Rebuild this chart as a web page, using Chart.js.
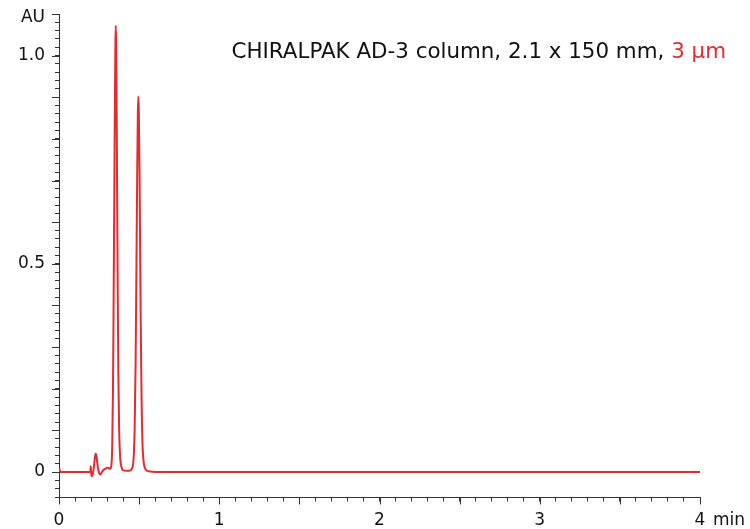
<!DOCTYPE html>
<html>
<head>
<meta charset="utf-8">
<script src="https://cdn.jsdelivr.net/npm/chart.js@4.4.1/dist/chart.umd.min.js"></script>
<style>
html, body { margin: 0; padding: 0; background: #fff; }
#wrap { width: 750px; height: 529px; }
</style>
</head>
<body>
<div id="wrap"><canvas id="chromChart"></canvas></div>
<script>
// Retention time (min) and absorbance (AU)
const times = [
    0.000, 0.003, 0.008, 0.190, 0.196, 0.198, 0.200, 0.205, 0.212, 0.220,
    0.226, 0.230, 0.235, 0.242, 0.250, 0.258, 0.268, 0.280, 0.292, 0.300,
    0.308, 0.315, 0.320, 0.326, 0.332, 0.337, 0.341, 0.345, 0.349, 0.352,
    0.354, 0.356, 0.359, 0.362, 0.366, 0.370, 0.375, 0.381, 0.390, 0.400,
    0.420, 0.440, 0.455, 0.465, 0.472, 0.478, 0.483, 0.488, 0.492, 0.495,
    0.498, 0.502, 0.506, 0.510, 0.515, 0.521, 0.528, 0.538, 0.550, 0.570,
    0.600, 1.000, 2.000, 3.000, 4.000
];
const absorbance = [
    0.000, 0.007, 0.000, 0.000, 0.002, 0.014, 0.000, -0.010, -0.002, 0.020,
    0.040, 0.044, 0.035, 0.012, -0.002, -0.006, 0.000, 0.006, 0.008, 0.010,
    0.010, 0.008, 0.008, 0.014, 0.060, 0.200, 0.420, 0.660, 0.900, 1.030,
    1.072, 1.040, 0.920, 0.720, 0.460, 0.250, 0.110, 0.040, 0.012, 0.004,
    0.003, 0.003, 0.008, 0.030, 0.100, 0.260, 0.480, 0.720, 0.860, 0.902,
    0.870, 0.740, 0.550, 0.360, 0.180, 0.070, 0.025, 0.008, 0.003, 0.001,
    0.000, 0.000, 0.000, 0.000, 0.000
];

// Axis labels
const xTickValues = [0, 1, 2, 3, 4];
const xTickLabels = ['0', '1', '2', '3', '4'];
const yTickValues = [0, 0.5, 1.0];
const yTickLabels = ['0', '0.5', '1.0'];
const yUnit = 'AU';
const xUnit = 'min';
const columnNote = 'CHIRALPAK AD-3 column, 2.1 x 150 mm, ';
const particleNote = '3 µm';

const traceColor = '#e52a30';
const axisColor = '#333333';
const fontFamily = '"DejaVu Sans", Verdana, sans-serif';

function near(a, b) {
    return Math.abs(a - b) < 1e-6;
}

function isMultiple(v, step) {
    const r = v / step;
    return Math.abs(r - Math.round(r)) < 1e-6;
}

// Longer tick marks at the major positions, plus unit and column text
const extras = {
    id: 'extras',
    afterDraw(chart) {
        const { ctx, scales: { x, y } } = chart;
        ctx.save();
        ctx.strokeStyle = axisColor;
        ctx.lineWidth = 1;
        ctx.beginPath();
        x.ticks.forEach(t => {
            if (!isMultiple(t.value, 0.5)) return;
            const px = Math.round(x.getPixelForValue(t.value)) + 0.5;
            ctx.moveTo(px, x.top);
            ctx.lineTo(px, x.top + 7);
        });
        y.ticks.forEach(t => {
            if (!isMultiple(t.value, 0.1)) return;
            const py = Math.round(y.getPixelForValue(t.value)) + 0.5;
            ctx.moveTo(y.right, py);
            ctx.lineTo(y.right - 7, py);
        });
        ctx.stroke();

        ctx.fillStyle = '#111';
        ctx.font = '17px ' + fontFamily;
        ctx.textBaseline = 'alphabetic';
        ctx.textAlign = 'right';
        ctx.fillText(yUnit, 45, 22);

        ctx.textAlign = 'left';
        const fourPx = x.getPixelForValue(4);
        ctx.fillText(xUnit, fourPx + 13, 525);

        ctx.font = '21.4px ' + fontFamily;
        ctx.textAlign = 'right';
        const rightEdge = 726;
        ctx.fillStyle = traceColor;
        ctx.fillText(particleNote, rightEdge, 58);
        const w = ctx.measureText(particleNote).width;
        ctx.fillStyle = '#111';
        ctx.fillText(columnNote, rightEdge - w, 58);
        ctx.restore();
    }
};

const ctx = document.getElementById('chromChart').getContext('2d');
new Chart(ctx, {
    type: 'line',
    data: {
        datasets: [{
            data: times.map((t, i) => ({ x: t, y: absorbance[i] })),
            borderColor: traceColor,
            borderWidth: 2,
            pointRadius: 0,
            cubicInterpolationMode: 'monotone',
            fill: false
        }]
    },
    options: {
        responsive: true,
        maintainAspectRatio: false,
        animation: false,
        layout: { padding: { top: 14, right: 50, left: 0, bottom: 0 } },
        plugins: {
            legend: { display: false },
            tooltip: { enabled: false }
        },
        scales: {
            x: {
                type: 'linear',
                min: 0,
                max: 4,
                afterFit: scale => {
                    scale.height = 31.5;
                    scale.paddingLeft = 0;
                    scale.paddingRight = 0;
                },
                border: { display: true, color: axisColor, width: 1 },
                grid: {
                    drawOnChartArea: false,
                    drawTicks: true,
                    tickLength: 4,
                    tickColor: axisColor
                },
                ticks: {
                    stepSize: 0.1,
                    autoSkip: false,
                    maxRotation: 0,
                    padding: 9,
                    color: '#111',
                    font: { family: fontFamily, size: 17 },
                    callback: function(value) {
                        const i = xTickValues.findIndex(v => near(v, value));
                        return i >= 0 ? xTickLabels[i] : '';
                    }
                }
            },
            y: {
                type: 'linear',
                min: -0.0612,
                max: 1.1,
                afterFit: scale => {
                    scale.width = 59;
                    scale.paddingTop = 0;
                    scale.paddingBottom = 0;
                },
                border: { display: true, color: axisColor, width: 1 },
                grid: {
                    drawOnChartArea: false,
                    drawTicks: true,
                    tickLength: 4,
                    tickColor: axisColor
                },
                ticks: {
                    stepSize: 0.02,
                    includeBounds: false,
                    autoSkip: false,
                    padding: 10,
                    color: '#111',
                    font: { family: fontFamily, size: 17 },
                    callback: function(value) {
                        const i = yTickValues.findIndex(v => near(v, value));
                        return i >= 0 ? yTickLabels[i] : '';
                    }
                }
            }
        }
    },
    plugins: [extras]
});
</script>
</body>
</html>
